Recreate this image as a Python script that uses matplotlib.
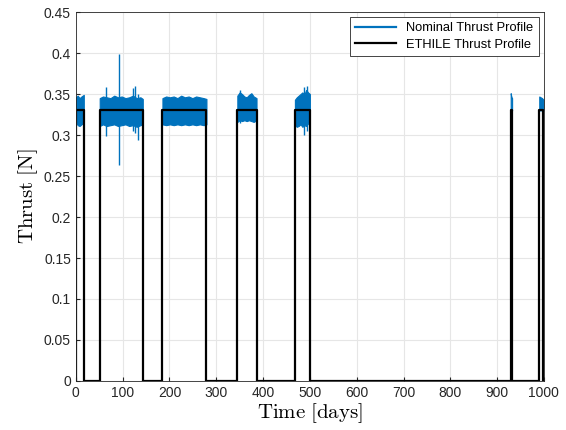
import numpy as np
import matplotlib.pyplot as plt
from matplotlib.lines import Line2D

# ─── DATA ─────────────────────────────────────────────────────────────────────

# thrust arcs [days]
ARC_START = [0, 51, 185, 345, 468, 929, 990]
ARC_END   = [17, 143, 279, 386, 500, 932, 999]
ETHILE_LEVEL = 0.33  # N

# nominal thrust envelope per arc (time, upper, lower)
NOM_T = [
    [0, 4, 8, 12, 17],
    [51, 58, 66, 74, 82, 90, 98, 106, 114, 122, 130, 138, 143],
    [185, 193, 201, 209, 217, 225, 233, 241, 249, 257, 265, 273, 279],
    [345, 350, 355, 360, 365, 370, 375, 380, 386],
    [468, 472, 476, 480, 484, 488, 492, 496, 500],
    [929, 930, 931, 932],
    [990, 993, 996, 999],
]
NOM_HI = [
    [0.346, 0.348, 0.345, 0.347, 0.349],
    [0.345, 0.347, 0.346, 0.345, 0.348, 0.346, 0.347, 0.345, 0.346, 0.348, 0.345, 0.346, 0.344],
    [0.345, 0.347, 0.346, 0.347, 0.345, 0.348, 0.346, 0.347, 0.345, 0.347, 0.346, 0.345, 0.344],
    [0.348, 0.352, 0.350, 0.347, 0.346, 0.349, 0.351, 0.347, 0.345],
    [0.343, 0.346, 0.348, 0.350, 0.352, 0.349, 0.355, 0.352, 0.350],
    [0.351, 0.348, 0.346, 0.345],
    [0.347, 0.346, 0.345, 0.343],
]
NOM_LO = [
    [0.316, 0.312, 0.311, 0.313, 0.315],
    [0.311, 0.313, 0.311, 0.312, 0.313, 0.311, 0.312, 0.313, 0.311, 0.312, 0.310, 0.312, 0.313],
    [0.313, 0.312, 0.313, 0.312, 0.313, 0.312, 0.313, 0.312, 0.313, 0.312, 0.313, 0.312, 0.313],
    [0.316, 0.318, 0.317, 0.318, 0.317, 0.318, 0.317, 0.316, 0.318],
    [0.312, 0.310, 0.311, 0.313, 0.310, 0.312, 0.311, 0.314, 0.318],
    [0.330, 0.330, 0.330, 0.330],
    [0.330, 0.330, 0.330, 0.330],
]

# isolated spikes of the nominal profile (time, max, min)
SPIKE_T  = [65, 93, 122, 127, 132, 350, 488, 493]
SPIKE_HI = [0.359, 0.399, 0.357, 0.360, 0.350, 0.355, 0.358, 0.360]
SPIKE_LO = [0.299, 0.263, 0.305, 0.303, 0.294, 0.315, 0.300, 0.305]

# ─── FIGURE ───────────────────────────────────────────────────────────────────

plt.rcParams["font.family"] = "Liberation Sans"
plt.rcParams["mathtext.fontset"] = "cm"

BLUE = "#0072BD"

fig = plt.figure(figsize=(5.66, 4.30), dpi=100)
ax = fig.add_axes([0.134, 0.114, 0.827, 0.858])

# nominal profile: envelope bands + spikes
for t, hi, lo in zip(NOM_T, NOM_HI, NOM_LO):
    ax.fill_between(t, lo, hi, color=BLUE, lw=0.8, edgecolor=BLUE)
ax.vlines(SPIKE_T, SPIKE_LO, SPIKE_HI, color=BLUE, lw=1.0)

# ETHILE step profile
ex, ey = [0], [0]
for s, e in zip(ARC_START, ARC_END):
    ex += [s, s, e, e]
    ey += [0, ETHILE_LEVEL, ETHILE_LEVEL, 0]
ex.append(1000)
ey.append(0)
ax.plot(ex, ey, color="black", lw=1.6)

ax.set_xlim(0, 1000)
ax.set_ylim(0, 0.45)
ax.set_xticks(np.arange(0, 1001, 100))
ax.set_yticks(np.arange(0, 0.451, 0.05))
ax.set_yticklabels(["0", "0.05", "0.1", "0.15", "0.2", "0.25", "0.3",
                    "0.35", "0.4", "0.45"])
ax.grid(True, color="#e6e6e6", lw=0.8)
ax.set_axisbelow(True)
ax.tick_params(direction="in", labelsize=10, colors="#262626", length=3)
for sp in ax.spines.values():
    sp.set_color("#262626")
    sp.set_linewidth(0.6)

ax.set_xlabel(r"$\mathrm{Time\ [days]}$", fontsize=15, labelpad=1)
ax.set_ylabel(r"$\mathrm{Thrust\ [N]}$", fontsize=15, labelpad=3)

# legend with proxy lines (nominal band drawn as a line)
handles = [Line2D([], [], color=BLUE, lw=1.6),
           Line2D([], [], color="black", lw=1.6)]
leg = ax.legend(handles, ["Nominal Thrust Profile", "ETHILE Thrust Profile"],
                loc="upper right", fontsize=9.3, fancybox=False,
                edgecolor="#262626", framealpha=1, handlelength=3.2,
                borderaxespad=0.4, labelspacing=0.35)
leg.get_frame().set_linewidth(0.6)

fig.savefig("out.png", dpi=100)
